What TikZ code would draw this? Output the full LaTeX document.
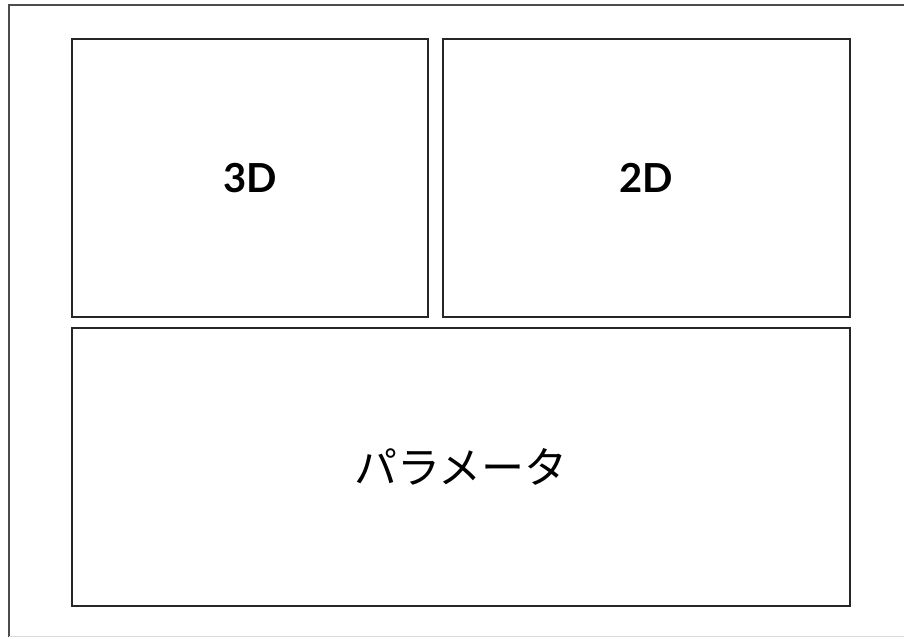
\documentclass[tikz,border=0pt]{standalone}
\usepackage{fontspec}
\setmainfont{Lato}
\newfontfamily\jpfont{Noto Sans CJK JP}
\usepackage{tikz}

\tikzset{pane/.style={draw=black!85, line width=1.6pt, inner sep=0pt}}

\begin{document}
\begin{tikzpicture}[x=1pt, y=-1pt]
        \useasboundingbox (0,0) rectangle (904,638);
        \draw[black!70, line width=2pt] (9,637) -- (9,4.5) -- (904,4.5);
        \draw[black!15, line width=1pt] (9,636.5) -- (904,636.5);

        \node[pane, minimum width=356pt, minimum height=278pt] (3d) at (250,178) {\fontsize{40}{46}\selectfont\bfseries 3D};
        \node[pane, minimum width=407pt, minimum height=278pt] (2d) at (646.5,178) {\fontsize{40}{46}\selectfont\bfseries 2D};
        \node[pane, minimum width=778pt, minimum height=278pt] (param) at (461,467) {\jpfont\fontsize{43}{49}\selectfont パラメータ};
    \end{tikzpicture}
\end{document}
